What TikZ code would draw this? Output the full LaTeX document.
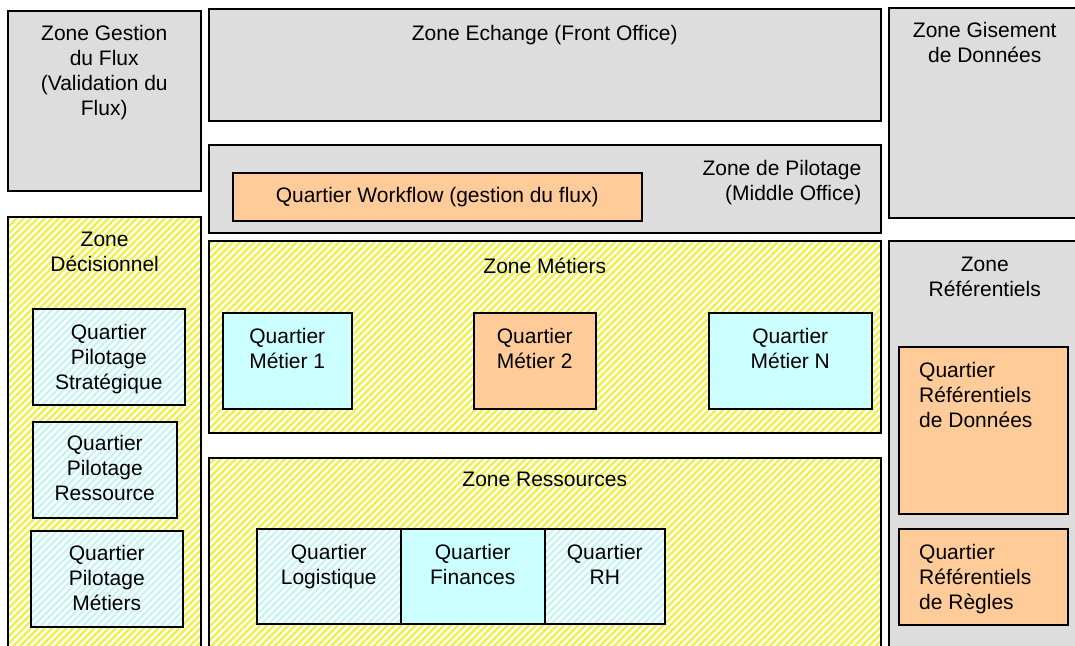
\documentclass[tikz,border=0pt]{standalone}
\usepackage{fontspec}
\setmainfont{Liberation Sans}
\usetikzlibrary{positioning, patterns.meta}
\definecolor{zonegris}{HTML}{DDDDDD}
\definecolor{quartorange}{HTML}{FFCC99}
\definecolor{quartcyan}{HTML}{CCFFFF}
\definecolor{hachjaune}{HTML}{F0F040}
\definecolor{hachcyan}{HTML}{C4F4F4}

\begin{document}
\begin{tikzpicture}[x=1pt, y=-1pt,
        font=\fontsize{21}{25}\selectfont,
        boite/.style={draw, rectangle, line width=1.5pt, anchor=north west, inner sep=0pt},
        zonegrise/.style={boite, fill=zonegris},
        zonehach/.style={boite, preaction={fill=white}, pattern={Lines[angle=45, distance=5pt, line width=2.3pt]}, pattern color=hachjaune},
        qcyan/.style={boite, fill=quartcyan},
        qorange/.style={boite, fill=quartorange},
        qhach/.style={boite, preaction={fill=white}, pattern={Lines[angle=45, distance=5pt, line width=2.3pt]}, pattern color=hachcyan},
        titre/.style={anchor=north, align=center, inner sep=0pt},
        node distance=16pt]
        \clip (0,0) rectangle (1075,645);

        % Zones du haut
        \node[zonegrise, minimum width=193pt, minimum height=180pt] (flux) at (7,10) {};
        \node[zonegrise, minimum width=672pt, minimum height=112pt] (echange) at (208,8) {};
        \node[zonegrise, minimum width=192pt, minimum height=210pt] (gisement) at (888,7) {};
        \node[zonegrise, minimum width=672pt, minimum height=88pt] (pilotage) at (208,144) {};
        \node[qorange, minimum width=409pt, minimum height=48pt] (workflow) at (232,172) {Quartier Workflow (gestion du flux)};

        % Zones du bas
        \node[zonehach, minimum width=193pt, minimum height=444pt] (decision) at (7,216) {};
        \node[zonehach, minimum width=672pt, minimum height=192pt] (metiers) at (208,240) {};
        \node[zonehach, minimum width=672pt, minimum height=203pt] (ressources) at (208,457) {};
        \node[zonegrise, minimum width=192pt, minimum height=420pt] (referentiels) at (888,240) {};

        % Titres des zones
        \node[titre, below=15pt of flux.north] (fluxtxt) {Zone Gestion\\du Flux\\(Validation du\\Flux)};
        \node[titre, below=17pt of echange.north] (echangetxt) {Zone Echange (Front Office)};
        \node[titre, below=15pt of gisement.north] (gisementtxt) {Zone Gisement\\de Donn\'ees};
        \node[titre, anchor=north east, align=right] (pilotagetxt) at ([xshift=-20pt, yshift=-16pt]pilotage.north east) {Zone de Pilotage\\(Middle Office)};
        \node[titre, below=of decision.north] (decisiontxt) {Zone\\D\'ecisionnel};
        \node[titre, below=18pt of metiers.north] (metierstxt) {Zone M\'etiers};
        \node[titre, below=15pt of ressources.north] (ressourcestxt) {Zone Ressources};
        \node[titre, below=17pt of referentiels.north] (referentielstxt) {Zone\\R\'ef\'erentiels};

        % Quartiers de la zone decisionnel
        \node[qhach, minimum width=152pt, minimum height=96pt] (strat) at (32,308) {};
        \node[qhach, minimum width=144pt, minimum height=96pt] (pilres) at (32,421) {};
        \node[qhach, minimum width=152pt, minimum height=96pt] (pilmet) at (30,530) {};
        \node[titre, below=of strat.north] (strattxt) {Quartier\\Pilotage\\Strat\'egique};
        \node[titre, below=14pt of pilres.north] (pilrestxt) {Quartier\\Pilotage\\Ressource};
        \node[titre, below=15pt of pilmet.north] (pilmettxt) {Quartier\\Pilotage\\M\'etiers};

        % Quartiers metiers
        \node[qcyan, minimum width=129pt, minimum height=96pt] (met1) at (222,312) {};
        \node[qorange, minimum width=122pt, minimum height=96pt] (met2) at (473,312) {};
        \node[qcyan, minimum width=163pt, minimum height=96pt] (metN) at (708,312) {};
        \node[titre, below=of met1.north] (met1txt) {Quartier\\M\'etier 1};
        \node[titre, below=of met2.north] (met2txt) {Quartier\\M\'etier 2};
        \node[titre, below=of metN.north] (metNtxt) {Quartier\\M\'etier N};

        % Quartiers ressources
        \node[qhach, minimum width=144pt, minimum height=95pt] (logist) at (256,528) {};
        \node[qcyan, minimum width=144pt, minimum height=95pt] (finances) at (400,528) {};
        \node[qhach, minimum width=120pt, minimum height=95pt] (rh) at (544,528) {};
        \node[titre, below=of logist.north] (logisttxt) {Quartier\\Logistique};
        \node[titre, below=of finances.north] (financestxt) {Quartier\\Finances};
        \node[titre, below=of rh.north] (rhtxt) {Quartier\\RH};

        % Quartiers referentiels
        \node[qorange, minimum width=169pt, minimum height=167pt] (donnees) at (898,346) {};
        \node[qorange, minimum width=169pt, minimum height=96pt] (regles) at (898,528) {};
        \node[titre, anchor=north west, align=left] (donneestxt) at ([xshift=21pt, yshift=-16pt]donnees.north west) {Quartier\\R\'ef\'erentiels\\de Donn\'ees};
        \node[titre, anchor=north west, align=left] (reglestxt) at ([xshift=21pt, yshift=-16pt]regles.north west) {Quartier\\R\'ef\'erentiels\\de R\`egles};
    \end{tikzpicture}
\end{document}
